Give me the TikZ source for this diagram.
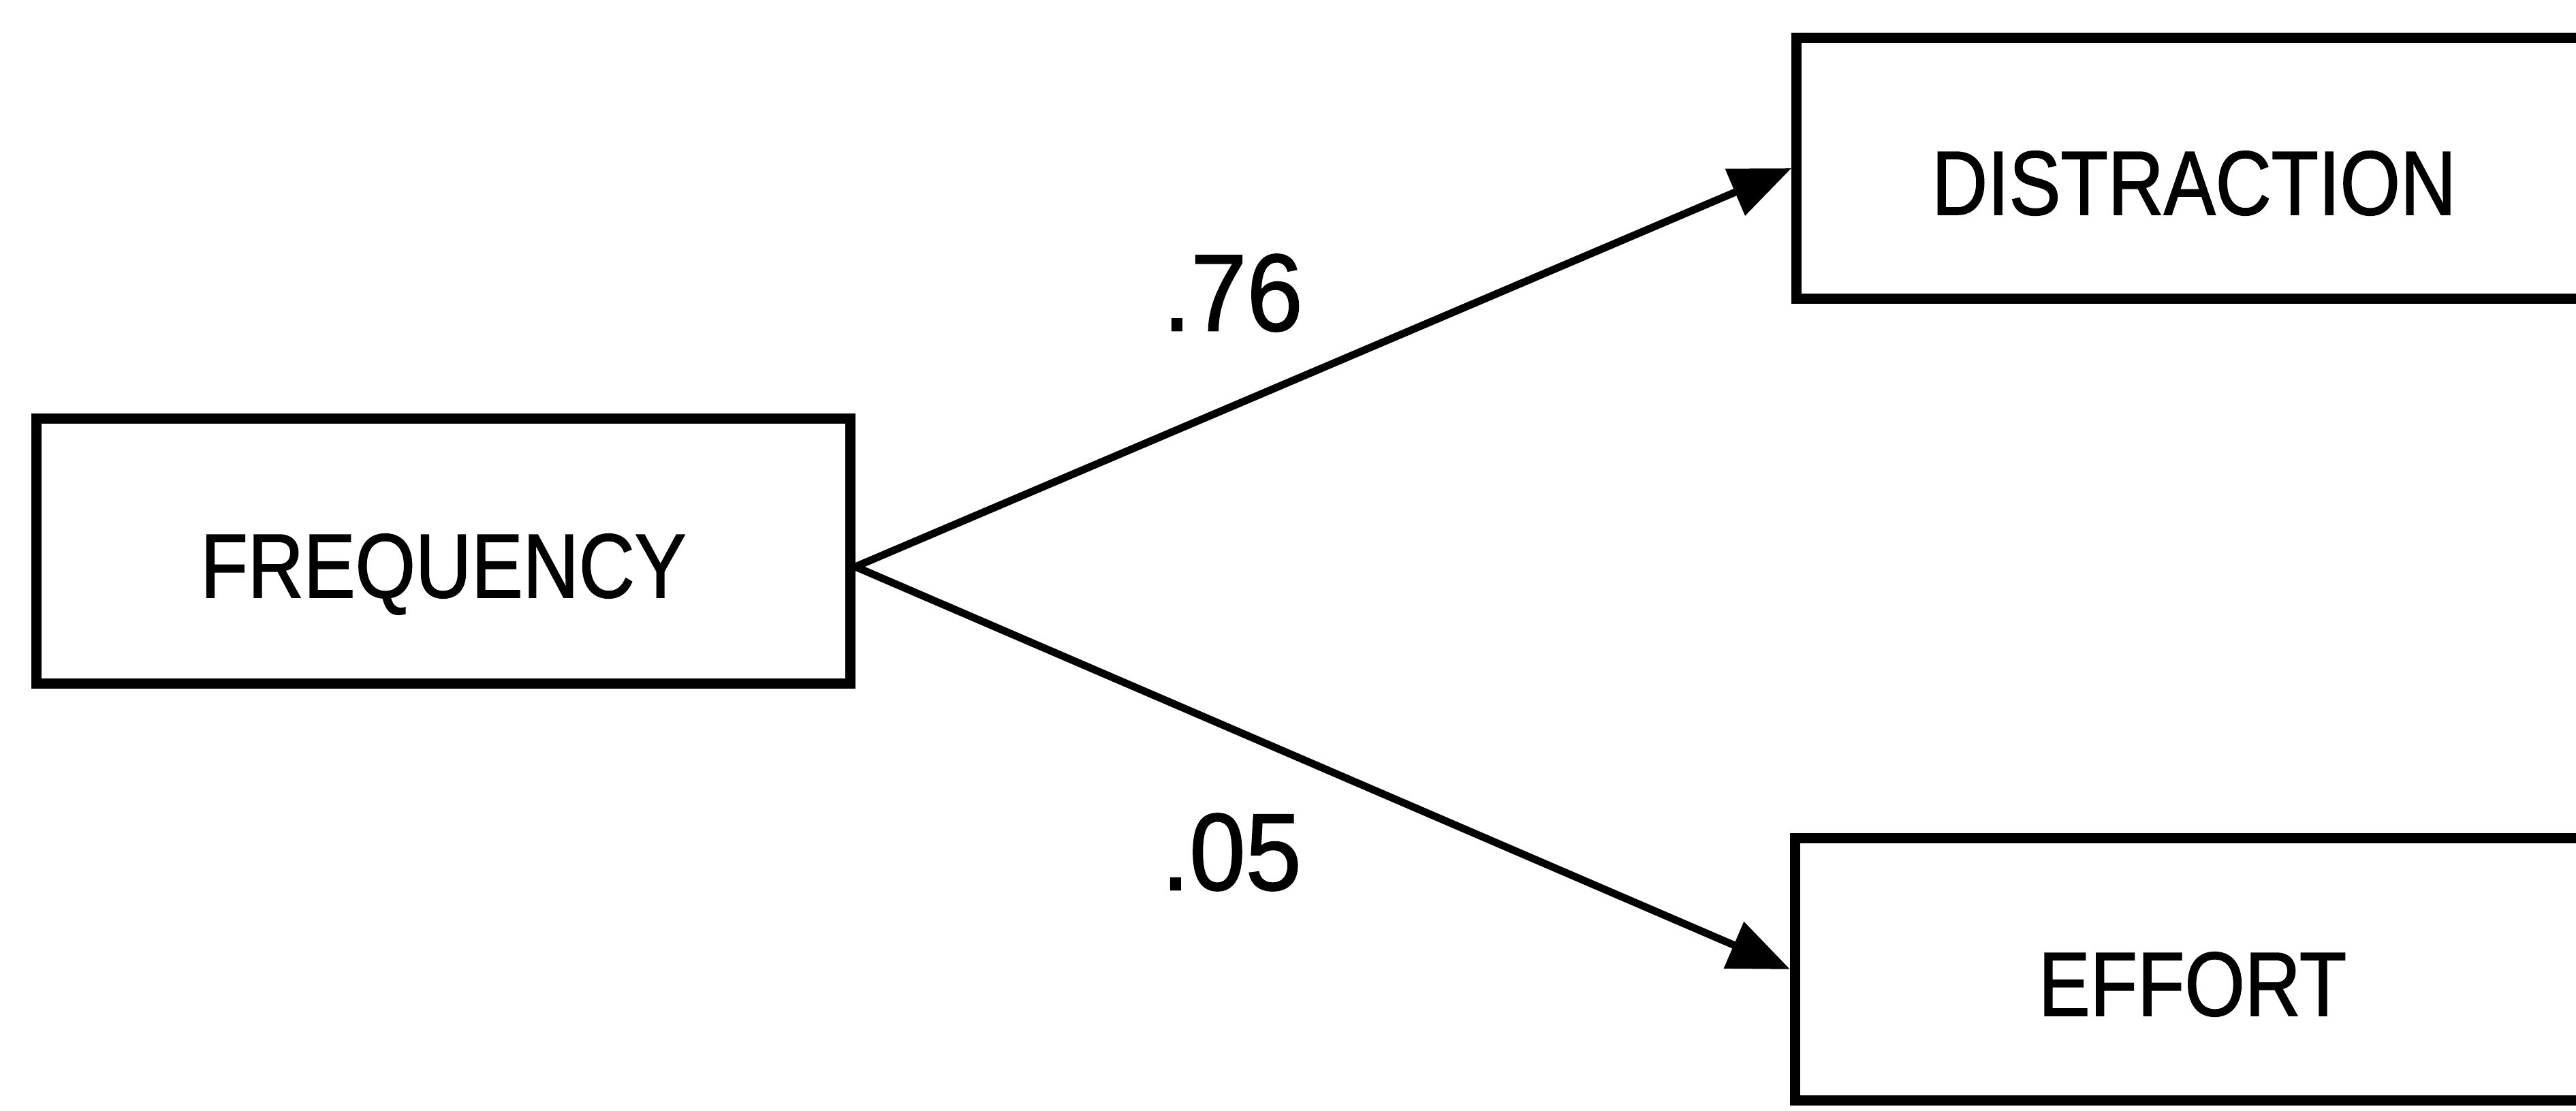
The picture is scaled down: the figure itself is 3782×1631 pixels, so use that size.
\documentclass[tikz,border=0pt]{standalone}
\usepackage{fontspec}
\setmainfont{Liberation Sans}
\newfontfamily\boxfont[FakeStretch=0.85,FakeBold=1.2]{Liberation Sans}
\newfontfamily\numfont[FakeStretch=0.92,FakeBold=1.2]{Liberation Sans}
\usetikzlibrary{arrows.meta}
\begin{document}
\begin{tikzpicture}[x=0.01cm,y=0.01cm,
  varbox/.style={draw=black, line width=0.15cm, fill=white, inner sep=0pt,
    minimum height=3.84cm, text height=1.36cm, text depth=0cm,
    font=\boxfont\fontsize{38}{44}\selectfont},
  effect/.style={line width=0.11cm, -{Triangle[length=0.9cm,width=0.72cm]}},
  coef/.style={font=\numfont\fontsize{45.7}{52}\selectfont, inner sep=0pt}]
\useasboundingbox (0,0) rectangle (3782,1631);
\fill[white] (0,0) rectangle (3782,1631);
\clip (0,0) rectangle (3782,1631);
\node[varbox, minimum width=11.94cm, minimum height=3.88cm] (freq) at (651,822) {FREQUENCY};
\node[varbox, minimum width=11.66cm, minimum height=3.82cm] (dist) at (3221,1384) {DISTRACTION};
\node[varbox, minimum width=11.66cm] (eff) at (3219,208) {EFFORT};
\draw[effect] ([yshift=-0.23cm]freq.east) -- (dist.west);
\draw[effect] ([yshift=-0.23cm]freq.east) -- (eff.west);
\node[coef] (c1) at (1810,1201) {.76};
\node[coef] (c2) at (1808,380) {.05};
\end{tikzpicture}
\end{document}
